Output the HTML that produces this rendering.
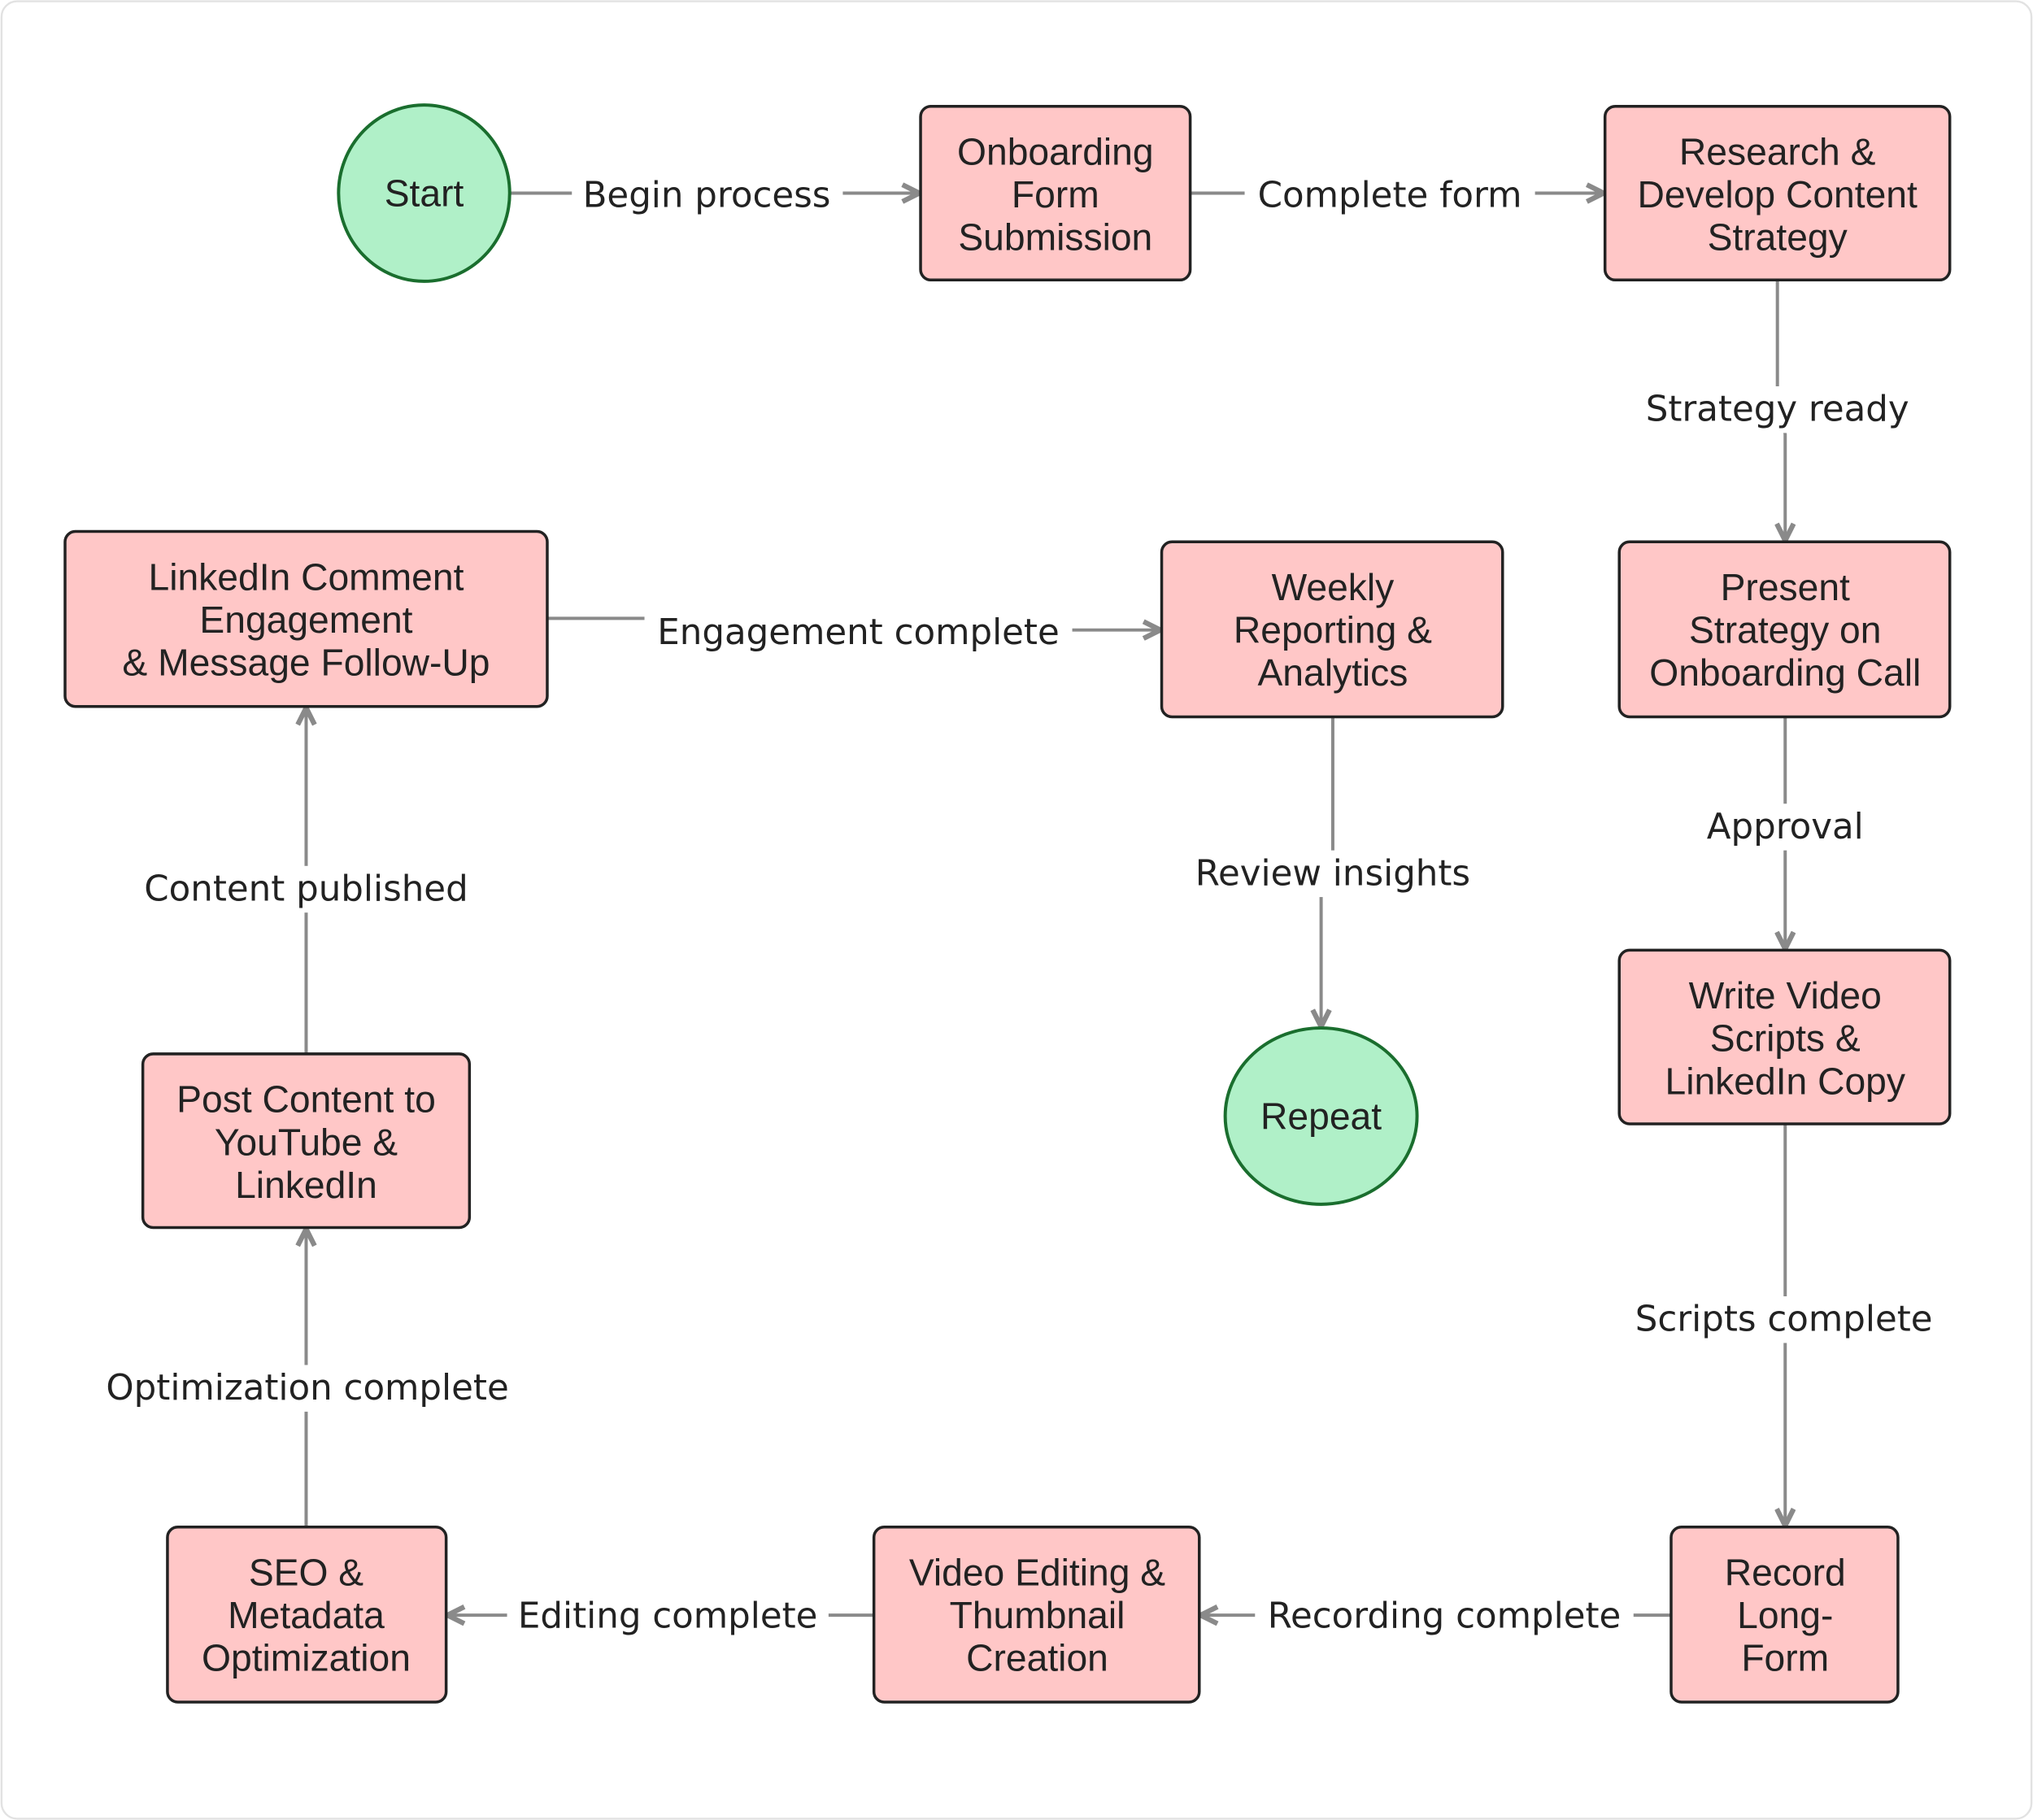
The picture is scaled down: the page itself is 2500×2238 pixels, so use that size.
<!DOCTYPE html>
<html><head><meta charset="utf-8"><style>
html,body{margin:0;padding:0;background:#fff}
svg{display:block}
.n{font-family:"Liberation Sans",Arial,sans-serif;font-size:29px;fill:#222;text-anchor:middle}
.l{font-family:"DejaVu Sans","Liberation Sans",sans-serif;font-size:27.3px;fill:#222;text-anchor:middle;dominant-baseline:central}
.e{stroke:#8a8a8a;stroke-width:2.5;fill:none}
.r{fill:#ffc7c7;stroke:#222;stroke-width:2.2}
.c{fill:#b0f0c8;stroke:#1a6e2e;stroke-width:2.5}
</style></head><body>
<svg width="2500" height="2238" viewBox="0 0 1568 1404" xmlns="http://www.w3.org/2000/svg">
<defs><marker id="a" viewBox="0 0 10 10" refX="9" refY="5" markerWidth="6.5" markerHeight="6.5" orient="auto"><path d="M1,1 L9,5 L1,9" fill="none" stroke="#8a8a8a" stroke-width="2.4"/></marker></defs>
<rect x="1" y="1" width="1566" height="1402" rx="12" fill="#fff" stroke="#e2e2e2" stroke-width="1.5"/>
<path class="e" d="M393,149 H709" marker-end="url(#a)"/>
<path class="e" d="M918,149 H1237" marker-end="url(#a)"/>
<path class="e" d="M1371,216 V300 L1377,335 V417" marker-end="url(#a)"/>
<path class="e" d="M1377,553 V732" marker-end="url(#a)"/>
<path class="e" d="M1377,867 V1177" marker-end="url(#a)"/>
<path class="e" d="M1289,1246 H926" marker-end="url(#a)"/>
<path class="e" d="M674,1246 H345" marker-end="url(#a)"/>
<path class="e" d="M236,1178 V948" marker-end="url(#a)"/>
<path class="e" d="M236,813 V546" marker-end="url(#a)"/>
<path class="e" d="M422,477 H500 L520,486 H895" marker-end="url(#a)"/>
<path class="e" d="M1028,553 V660 L1019,690 V792" marker-end="url(#a)"/>
<g fill="#fff">
<rect x="441" y="132" width="209" height="36"/>
<rect x="960" y="132" width="224" height="36"/>
<rect x="1262" y="298" width="218" height="36"/>
<rect x="1308" y="620" width="138" height="36"/>
<rect x="1253" y="1000" width="246" height="36"/>
<rect x="968" y="1228" width="292" height="36"/>
<rect x="391" y="1228" width="248" height="36"/>
<rect x="72" y="1053" width="330" height="36"/>
<rect x="102" y="668" width="268" height="36"/>
<rect x="497" y="469" width="330" height="36"/>
<rect x="914" y="656" width="228" height="36"/>
</g>
<text class="l" x="545" y="151">Begin process</text>
<text class="l" x="1072" y="151">Complete form</text>
<text class="l" x="1371" y="316">Strategy ready</text>
<text class="l" x="1377" y="638">Approval</text>
<text class="l" x="1376" y="1018">Scripts complete</text>
<text class="l" x="1114" y="1247">Recording complete</text>
<text class="l" x="515" y="1247">Editing complete</text>
<text class="l" x="237" y="1071">Optimization complete</text>
<text class="l" x="236" y="686">Content published</text>
<text class="l" x="662" y="488">Engagement complete</text>
<text class="l" x="1028" y="674">Review insights</text>
<ellipse class="c" cx="327" cy="149" rx="66" ry="68"/>
<text class="n" x="327" y="159">Start</text>
<ellipse class="c" cx="1019" cy="861" rx="74" ry="68"/>
<text class="n" x="1019" y="871">Repeat</text>
<rect class="r" x="710" y="82" width="208" height="134" rx="8"/>
<text class="n" x="814" y="127">Onboarding</text><text class="n" x="814" y="160">Form</text><text class="n" x="814" y="193">Submission</text>
<rect class="r" x="1238" y="82" width="266" height="134" rx="8"/>
<text class="n" x="1371" y="127">Research &amp;</text><text class="n" x="1371" y="160">Develop Content</text><text class="n" x="1371" y="193">Strategy</text>
<rect class="r" x="1249" y="418" width="255" height="135" rx="8"/>
<text class="n" x="1377" y="463">Present</text><text class="n" x="1377" y="496">Strategy on</text><text class="n" x="1377" y="529">Onboarding Call</text>
<rect class="r" x="1249" y="733" width="255" height="134" rx="8"/>
<text class="n" x="1377" y="778">Write Video</text><text class="n" x="1377" y="811">Scripts &amp;</text><text class="n" x="1377" y="844">LinkedIn Copy</text>
<rect class="r" x="1289" y="1178" width="175" height="135" rx="8"/>
<text class="n" x="1377" y="1223">Record</text><text class="n" x="1377" y="1256">Long-</text><text class="n" x="1377" y="1289">Form</text>
<rect class="r" x="674" y="1178" width="251" height="135" rx="8"/>
<text class="n" x="800" y="1223">Video Editing &amp;</text><text class="n" x="800" y="1256">Thumbnail</text><text class="n" x="800" y="1289">Creation</text>
<rect class="r" x="129" y="1178" width="215" height="135" rx="8"/>
<text class="n" x="236" y="1223">SEO &amp;</text><text class="n" x="236" y="1256">Metadata</text><text class="n" x="236" y="1289">Optimization</text>
<rect class="r" x="110" y="813" width="252" height="134" rx="8"/>
<text class="n" x="236" y="858">Post Content to</text><text class="n" x="236" y="891">YouTube &amp;</text><text class="n" x="236" y="924">LinkedIn</text>
<rect class="r" x="50" y="410" width="372" height="135" rx="8"/>
<text class="n" x="236" y="455">LinkedIn Comment</text><text class="n" x="236" y="488">Engagement</text><text class="n" x="236" y="521">&amp; Message Follow-Up</text>
<rect class="r" x="896" y="418" width="263" height="135" rx="8"/>
<text class="n" x="1028" y="463">Weekly</text><text class="n" x="1028" y="496">Reporting &amp;</text><text class="n" x="1028" y="529">Analytics</text>
</svg>
</body></html>
